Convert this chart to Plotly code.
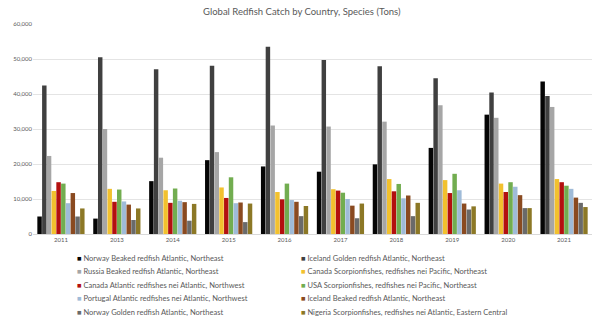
import plotly.graph_objects as go

years = ["2011", "2013", "2014", "2015", "2016", "2017", "2018", "2019", "2020", "2021"]

norway_beaked = [5000, 4400, 15100, 21100, 19300, 17800, 19900, 24600, 34100, 43600]
iceland_golden = [42400, 50500, 47100, 48100, 53500, 49700, 47900, 44500, 40400, 39400]
russia_beaked = [22300, 30000, 21800, 23400, 31000, 30700, 32100, 36800, 33200, 36300]
canada_scorpion = [12300, 12900, 12500, 13300, 12000, 12800, 15700, 15400, 14400, 15700]
canada_atlantic = [14800, 9200, 8900, 10300, 9900, 12400, 12200, 11700, 12000, 14800]
usa_scorpion = [14400, 12700, 13000, 16200, 14400, 11800, 14300, 17200, 14800, 13800]
portugal_atlantic = [8800, 9300, 9500, 8800, 9700, 10000, 10200, 12500, 13500, 12900]
iceland_beaked = [11700, 8400, 9100, 9000, 9200, 8100, 11000, 8700, 11100, 10400]
norway_golden = [5000, 4000, 3800, 3400, 5100, 4500, 5100, 7000, 7400, 8900]
nigeria_scorpion = [7300, 7300, 8600, 8700, 8000, 8700, 8900, 7900, 7400, 7700]

series_names = [
    "Norway Beaked redfish Atlantic, Northeast",
    "Iceland Golden redfish Atlantic, Northeast",
    "Russia Beaked redfish Atlantic, Northeast",
    "Canada Scorpionfishes, redfishes nei Pacific, Northeast",
    "Canada Atlantic redfishes nei Atlantic, Northwest",
    "USA Scorpionfishes, redfishes nei Pacific, Northeast",
    "Portugal Atlantic redfishes nei Atlantic, Northwest",
    "Iceland Beaked redfish Atlantic, Northeast",
    "Norway Golden redfish Atlantic, Northeast",
    "Nigeria Scorpionfishes, redfishes nei Atlantic, Eastern Central",
]
series_values = [
    norway_beaked, iceland_golden, russia_beaked, canada_scorpion, canada_atlantic,
    usa_scorpion, portugal_atlantic, iceland_beaked, norway_golden, nigeria_scorpion,
]
colors = ["#050505", "#404040", "#a6a6a6", "#f2c12e", "#b3100f",
          "#72ad50", "#9fbbd8", "#8a4a20", "#6a6a6a", "#8c7826"]

W, H = 600, 327
ML, MR, MT, MB = 33, 8, 24, 93
PW, PH = W - ML - MR, H - MT - MB

fig = go.Figure()
for name, vals, col in zip(series_names, series_values, colors):
    fig.add_trace(go.Bar(x=years, y=vals, name=name, showlegend=False,
                         marker=dict(color=col, line=dict(width=0))))

# legend drawn as text entries, two columns, row-major like the original
col_px = [75, 299]
row_px = [258, 271.5, 285, 298.5, 312]
annotations = []
for i, (name, col) in enumerate(zip(series_names, colors)):
    px = col_px[i % 2]
    py = row_px[i // 2]
    annotations.append(dict(
        text=f'<span style="color:{col}">■</span> {name}',
        xref="paper", yref="paper",
        x=(px - ML) / PW, y=(H - MB - py) / PH,
        xanchor="left", yanchor="middle", showarrow=False,
        font=dict(size=7.5, color="#595959"),
    ))

font_family = "Lato, 'Open Sans', sans-serif"
fig.update_layout(
    width=W, height=H,
    margin=dict(l=ML, r=MR, t=MT, b=MB),
    paper_bgcolor="white", plot_bgcolor="white",
    barmode="group", bargap=0.15, bargroupgap=0.06,
    title=dict(text="Global Redfish Catch by Country, Species (Tons)",
               x=0.503, xanchor="center", y=0.965, yanchor="middle",
               font=dict(family=font_family, size=9.5, color="#595959")),
    font=dict(family=font_family, color="#595959"),
    xaxis=dict(showgrid=False, showline=True, linecolor="#d9d9d9", linewidth=1,
               ticks="", tickfont=dict(size=6, color="#595959")),
    yaxis=dict(range=[0, 60000], dtick=10000, tickformat=",", showgrid=True,
               gridcolor="#e4e4e4", gridwidth=1, zeroline=False, showline=False,
               ticks="", tickfont=dict(size=6, color="#595959")),
    annotations=annotations,
)

fig.write_html("out.html")
